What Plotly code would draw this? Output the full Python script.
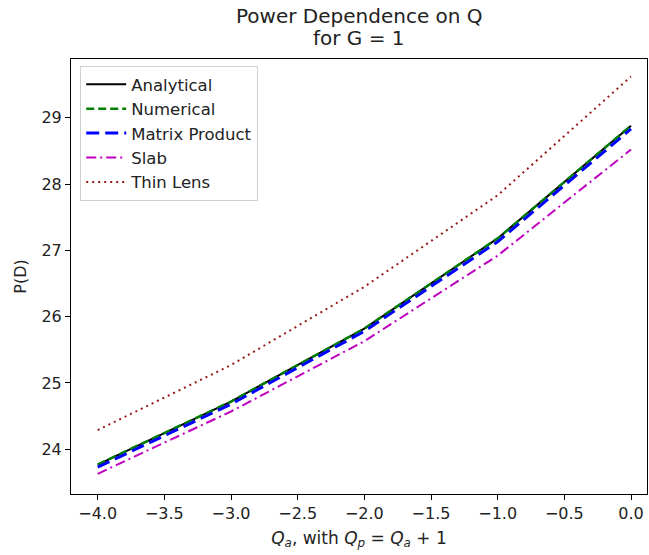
import plotly.graph_objects as go

q_a = [-4, -3, -2, -1, 0]
analytical = [23.77, 24.72, 25.82, 27.18, 28.88]
numerical = [23.77, 24.72, 25.82, 27.18, 28.88]
matrix_product = [23.73, 24.68, 25.78, 27.13, 28.83]
slab = [23.63, 24.57, 25.63, 26.92, 28.52]
thin_lens = [24.29, 25.27, 26.45, 27.83, 29.62]

x_ticks = [-4.0, -3.5, -3.0, -2.5, -2.0, -1.5, -1.0, -0.5, 0.0]
y_ticks = [24, 25, 26, 27, 28, 29]

title_lines = ["Power Dependence on Q", "for G = 1"]

FONT = "DejaVu Sans"
TXT = "#222"

fig = go.Figure()
fig.add_trace(go.Scatter(x=q_a, y=analytical, mode="lines", name="Analytical",
                         line=dict(color="black", width=2, dash="solid")))
fig.add_trace(go.Scatter(x=q_a, y=numerical, mode="lines", name="Numerical",
                         line=dict(color="#008000", width=2.5, dash="8px,4px")))
fig.add_trace(go.Scatter(x=q_a, y=matrix_product, mode="lines", name="Matrix Product",
                         line=dict(color="#0000ff", width=3, dash="13px,6px")))
fig.add_trace(go.Scatter(x=q_a, y=slab, mode="lines", name="Slab",
                         line=dict(color="#bf00bf", width=2, dash="10px,4px,2px,4px")))
fig.add_trace(go.Scatter(x=q_a, y=thin_lens, mode="lines", name="Thin Lens",
                         line=dict(color="#9a1a1a", width=2, dash="2px,4px")))

axis_common = dict(
    showline=True, linecolor="black", linewidth=1, mirror=True,
    ticks="outside", ticklen=5, tickwidth=1, tickcolor="black",
    showgrid=False, zeroline=False, automargin=False,
    tickfont=dict(family=FONT, size=16, color=TXT),
)

plot_h = 555 - 59 - 61
fig.add_annotation(text=title_lines[0], xref="paper", yref="paper",
                   x=0.5, y=1 + (59 - 16) / plot_h, xanchor="center", yanchor="middle",
                   showarrow=False, font=dict(family=FONT, size=20, color=TXT))
fig.add_annotation(text=title_lines[1], xref="paper", yref="paper",
                   x=0.5, y=1 + (59 - 38) / plot_h, xanchor="center", yanchor="middle",
                   showarrow=False, font=dict(family=FONT, size=20, color=TXT))

fig.update_layout(
    width=649, height=555,
    plot_bgcolor="white", paper_bgcolor="white",
    margin=dict(l=71, r=2, t=59, b=61, autoexpand=False),
    font=dict(family=FONT, color=TXT),
    xaxis=dict(range=[-4.2, 0.12], tickvals=x_ticks,
               ticktext=[f"{v:.1f}".replace("-", "\u2212") for v in x_ticks],
               title=dict(text="<i>Q</i><sub><i>a</i></sub>, with <i>Q</i><sub><i>p</i></sub> = <i>Q</i><sub><i>a</i></sub> + 1",
                          font=dict(family=FONT, size=17, color=TXT), standoff=9),
               **axis_common),
    yaxis=dict(range=[23.326, 29.885], tickvals=y_ticks,
               title=dict(text="P(D)", font=dict(family=FONT, size=16, color=TXT), standoff=10),
               **axis_common),
    legend=dict(x=0.016, y=0.984, xanchor="left", yanchor="top",
                bgcolor="rgba(255,255,255,0.8)", bordercolor="#d0d0d0", borderwidth=1,
                font=dict(family=FONT, size=16.5, color=TXT), tracegroupgap=0,
                itemwidth=40),
    showlegend=True,
)

fig.write_html("out.html", config={"displayModeBar": False},
               post_script="document.body.style.margin='0';")
